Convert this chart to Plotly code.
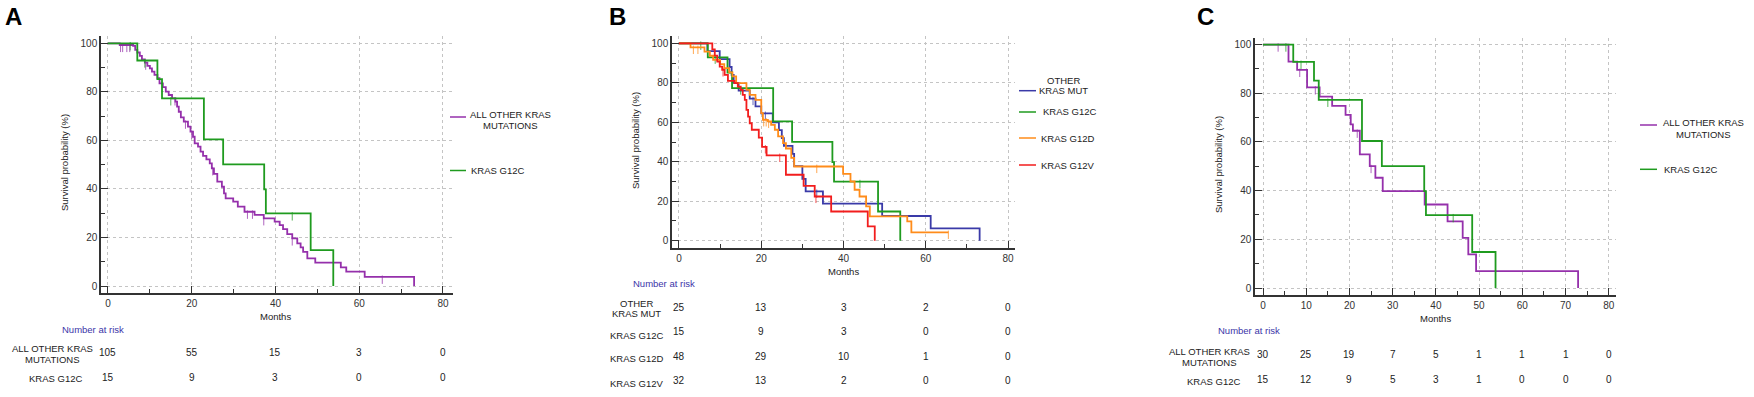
import plotly.graph_objects as go

W, H = 1754, 397
FONT = "Liberation Sans, Arial, sans-serif"

# ---------------- DATA ----------------
# Panel A / C : KRAS G12C (same cohort in all panels)
g12c_t = [0, 7.0, 11.8, 12.9, 22.9, 27.5, 37.3, 37.7, 48.4, 53.8]
g12c_s = [100, 92.9, 85.2, 77.3, 60.4, 50.1, 39.8, 29.9, 14.8, 0]
g12c_cens = [5.3, 8.8, 15.0, 44.0]

# Panel A : all other KRAS mutations
a_oth_t = [0, 2.8, 6.0, 6.5, 7.0, 7.6, 8.1, 8.8, 9.4, 10.0, 10.5, 11.1, 11.8, 12.3, 13.1,
           13.8, 14.5, 15.3, 16.1, 16.5, 16.9, 17.4, 18.1, 19.1, 19.7, 20.3, 20.7, 21.5,
           22.1, 22.7, 23.5, 24.3, 24.8, 25.3, 26.1, 27.2, 27.7, 28.1, 29.9, 31.0, 32.6,
           35.0, 37.2, 39.8, 41.0, 41.8, 42.8, 44.0, 45.2, 46.0, 46.6, 47.6, 49.5, 55.6,
           56.9, 61.3, 73.1]
a_oth_s = [100, 99.3, 98.9, 97.3, 96.2, 94.8, 93.4, 92.0, 90.7, 89.7, 88.3, 87.0, 85.6, 83.5, 81.9,
           80.1, 78.7, 77.3, 76.0, 73.9, 71.8, 69.5, 67.7, 65.7, 63.6, 61.5, 58.8, 57.4,
           55.4, 53.6, 52.2, 50.5, 48.5, 46.2, 43.0, 40.9, 38.2, 36.1, 34.8, 32.7, 30.6,
           29.3, 27.9, 26.5, 25.1, 23.4, 21.4, 19.6, 17.6, 15.9, 14.1, 11.4, 9.6, 7.7,
           5.9, 3.8, 0]
a_oth_cens = [3.0, 3.5, 4.5, 5.2, 9.0, 16.0, 18.5, 20.0, 25.0, 33.3, 34.5, 37.2, 44.0, 65.5]

# Panel B : other KRAS mut
b_oth_t = [0, 6.9, 9.9, 12.3, 12.8, 13.3, 14.5, 17.2, 18.6, 20.0, 22.8, 24.3, 25.0, 25.5,
           27.6, 28.0, 30.0, 30.8, 35.0, 49.4, 61.2, 73.1]
b_oth_s = [100, 96, 92, 88, 84, 80, 76, 72, 68, 64.5, 60, 56, 52, 48,
           44, 37.8, 31.3, 25.0, 18.8, 12.5, 6.2, 0]
b_oth_cens = [18.0, 21.0, 33.5]

# Panel B : KRAS G12D
g12d_t = [0, 2.8, 6.2, 7.5, 8.3, 10.0, 11.0, 12.2, 13.0, 13.9, 16.4, 17.2, 18.6, 20.0, 20.4,
          21.6, 22.4, 23.3, 24.1, 25.3, 26.0, 27.3, 28.0, 39.9, 41.7, 42.7, 43.9, 45.5,
          46.4, 55.5, 56.5, 65.5]
g12d_s = [100, 97.9, 95.8, 93.7, 91.6, 89.5, 87.4, 85.3, 83.2, 79.8, 76.4, 73.9, 71.3, 64.6, 61.2,
          60.4, 58.7, 56.2, 52.8, 49.4, 46.7, 42.0, 37.6, 33.9, 30.0, 25.8, 22.4, 17.4,
          12.3, 9.8, 4.2, 4.2]
g12d_cens = [3.5, 4.6, 20.6, 21.2, 21.8, 33.5, 65.5]

# Panel B : KRAS G12V
g12v_t = [0, 8.1, 8.7, 9.3, 9.9, 10.5, 11.1, 11.9, 13.5, 14.3, 15.0, 15.5, 16.0, 16.4, 16.8,
          17.2, 17.7, 19.4, 20.2, 21.3, 26.0, 30.3, 33.0, 37.0, 45.9, 47.6]
g12v_s = [100, 96.9, 93.8, 90.7, 88.2, 86.5, 84.0, 81.0, 79.8, 78.1, 76.4, 73.9, 71.3, 66.3, 62.9,
          59.5, 56.2, 52.2, 47.5, 43.2, 33.4, 27.8, 22.4, 14.8, 7.3, 0]
g12v_cens = [10.7, 21.0, 24.5, 33.3]

# Panel C : all other KRAS mutations (subset)
c_oth_t = [0, 5.9, 7.9, 10.2, 13.1, 16.0, 19.1, 20.3, 20.8, 22.4, 24.7, 26.0, 27.7, 37.4,
           42.7, 46.2, 47.5, 49.3, 72.9]
c_oth_s = [100, 93.0, 89.6, 82.4, 78.6, 74.8, 71.1, 67.2, 64.6, 54.9, 50.1, 45.3, 39.8, 34.3,
           27.4, 20.6, 13.8, 6.9, 0]
c_oth_cens = [3.5, 8.5, 12.1, 21.8, 25.0]

# Risk tables
risk_times_ab = [0, 20, 40, 60, 80]
risk_times_c = [0, 10, 20, 30, 40, 50, 60, 70, 80]
risk_a_oth = [105, 55, 15, 3, 0]
risk_a_g12c = [15, 9, 3, 0, 0]
risk_b_oth = [25, 13, 3, 2, 0]
risk_b_g12c = [15, 9, 3, 0, 0]
risk_b_g12d = [48, 29, 10, 1, 0]
risk_b_g12v = [32, 13, 2, 0, 0]
risk_c_oth = [30, 25, 19, 7, 5, 1, 1, 1, 0]
risk_c_g12c = [15, 12, 9, 5, 3, 1, 0, 0, 0]

PURPLE = "#9530ab"
GREEN = "#1f9b1f"
BLUE = "#3a3aa8"
ORANGE = "#ff8c1a"
RED = "#f21d1d"
RISKBLUE = "#3b35a8"
TXT = "#222222"


def px(x):
    return x / W


def py(y):
    return 1 - y / H


def surv_at(t, times, surv):
    val = surv[0]
    for ti, si in zip(times, surv):
        if ti <= t:
            val = si
    return val


fig = go.Figure()


def add_curve(times, surv, cens, color, ax):
    xa, ya = ("x", "y") if ax == 1 else (f"x{ax}", f"y{ax}")
    fig.add_trace(go.Scatter(x=times, y=surv, mode="lines",
                             line=dict(shape="hv", color=color, width=1.8),
                             xaxis=xa, yaxis=ya, showlegend=False, hoverinfo="skip"))
    fig.add_trace(go.Scatter(x=cens, y=[surv_at(t, times, surv) - 1.2 for t in cens], mode="markers",
                             marker=dict(symbol="line-ns", size=6, color=color, opacity=0.75,
                                         line=dict(width=1, color=color)),
                             xaxis=xa, yaxis=ya, showlegend=False, hoverinfo="skip"))


# Panel A
add_curve(a_oth_t, a_oth_s, a_oth_cens, PURPLE, 1)
add_curve(g12c_t, g12c_s, g12c_cens, GREEN, 1)
# Panel B
add_curve(b_oth_t, b_oth_s, b_oth_cens, BLUE, 2)
add_curve(g12c_t, g12c_s, g12c_cens, GREEN, 2)
add_curve(g12d_t, g12d_s, g12d_cens, ORANGE, 2)
add_curve(g12v_t, g12v_s, g12v_cens, RED, 2)
# Panel C
add_curve(c_oth_t, c_oth_s, c_oth_cens, PURPLE, 3)
add_curve(g12c_t, g12c_s, g12c_cens, GREEN, 3)


def xaxis(dom, rng, dtick, mdtick, anchor):
    return dict(domain=[px(dom[0]), px(dom[1])], range=rng, anchor=anchor,
                showline=True, linecolor="#333333", linewidth=1.5,
                ticks="inside", ticklen=7, tickwidth=1, tickcolor="#333333",
                tick0=0, dtick=dtick, showgrid=True, gridcolor="#c4c4c4", griddash="dot",
                gridwidth=1, zeroline=False, fixedrange=True,
                tickfont=dict(size=10, color="#333333", family=FONT),
                minor=dict(ticks="inside", ticklen=4, tick0=0, dtick=mdtick,
                           tickcolor="#333333", showgrid=False))


def yaxis(dom, rng, anchor):
    return dict(domain=[py(dom[1]), py(dom[0])], range=rng, anchor=anchor,
                showline=True, linecolor="#333333", linewidth=1.5,
                ticks="inside", ticklen=7, tickwidth=1, tickcolor="#333333",
                tick0=0, dtick=20, showgrid=True, gridcolor="#c4c4c4", griddash="dot",
                gridwidth=1, zeroline=False, fixedrange=True,
                tickfont=dict(size=10, color="#333333", family=FONT),
                minor=dict(ticks="inside", ticklen=4, tick0=0, dtick=10,
                           tickcolor="#333333", showgrid=False))


fig.update_layout(
    width=W, height=H, autosize=False,
    margin=dict(l=0, r=0, t=0, b=0),
    paper_bgcolor="white", plot_bgcolor="white",
    showlegend=False,
    xaxis=xaxis((101, 453), [-1.67, 82.39], 20, 10, "y"),
    yaxis=yaxis((36, 293), [-2.88, 103.0], "x"),
    xaxis2=xaxis((672, 1015), [-1.70, 81.7], 20, 10, "y2"),
    yaxis2=yaxis((36, 248), [-3.70, 103.7], "x2"),
    xaxis3=xaxis((1255, 1616), [-1.85, 81.67], 10, 5, "y3"),
    yaxis3=yaxis((38, 295), [-2.87, 102.7], "x3"),
)

annotations = []
shapes = []


def ann(text, x, y, xref="paper", xanchor="center", size=9.5, color=TXT, angle=0):
    annotations.append(dict(text=text, x=px(x) if xref == "paper" else x, y=py(y),
                            xref=xref, yref="paper", xanchor=xanchor, yanchor="middle",
                            showarrow=False, textangle=angle,
                            font=dict(size=size, color=color, family=FONT)))


def leg_line(x0, x1, y, color):
    shapes.append(dict(type="line", xref="paper", yref="paper",
                       x0=px(x0), x1=px(x1), y0=py(y), y1=py(y),
                       line=dict(color=color, width=1.5)))


# Panel letters
ann("<b>A</b>", 3, 16, xanchor="left", size=24, color="black")
ann("<b>B</b>", 607, 16, xanchor="left", size=24, color="black")
ann("<b>C</b>", 1195, 16, xanchor="left", size=24, color="black")

# Axis titles
ann("Survival probability (%)", 64, 163, angle=-90)
ann("Survival probability (%)", 635, 141, angle=-90)
ann("Survival probability (%)", 1218, 165, angle=-90)
ann("Months", 40, 316, xref="x")
ann("Months", 40, 271, xref="x2")
ann("Months", 40, 318, xref="x3")

# Legends
leg_line(450, 466, 117, PURPLE)
ann("ALL OTHER KRAS", 510, 115)
ann("MUTATIONS", 510, 126)
leg_line(450, 466, 170.5, GREEN)
ann("KRAS G12C", 469, 170.5, xanchor="left")

leg_line(1019, 1036, 90.7, BLUE)
ann("OTHER", 1063, 80.5)
ann("KRAS MUT", 1063, 91)
leg_line(1019, 1036, 112, GREEN)
ann("KRAS G12C", 1041, 112, xanchor="left")
leg_line(1019, 1036, 138, ORANGE)
ann("KRAS G12D", 1039, 138, xanchor="left")
leg_line(1019, 1036, 165, RED)
ann("KRAS G12V", 1039, 165, xanchor="left")

leg_line(1640, 1657, 125, PURPLE)
ann("ALL OTHER KRAS", 1703, 122.7)
ann("MUTATIONS", 1703, 134)
leg_line(1640, 1657, 169.3, GREEN)
ann("KRAS G12C", 1662, 169.3, xanchor="left")

# Risk tables
ann("Number at risk", 60, 329, xanchor="left", color=RISKBLUE)
ann("ALL OTHER KRAS", 52, 348)
ann("MUTATIONS", 52, 359)
ann("KRAS G12C", 55.5, 378)
for t, v in zip(risk_times_ab, risk_a_oth):
    ann(str(v), t, 352, xref="x", size=10)
for t, v in zip(risk_times_ab, risk_a_g12c):
    ann(str(v), t, 377, xref="x", size=10)

ann("Number at risk", 631, 283, xanchor="left", color=RISKBLUE)
ann("OTHER", 636.5, 303)
ann("KRAS MUT", 636.5, 313)
ann("KRAS G12C", 636.5, 335)
ann("KRAS G12D", 636.5, 358.7)
ann("KRAS G12V", 636.5, 383)
for row, yy in ((risk_b_oth, 307), (risk_b_g12c, 331.7), (risk_b_g12d, 356), (risk_b_g12v, 380)):
    for t, v in zip(risk_times_ab, row):
        ann(str(v), t, yy, xref="x2", size=10)

ann("Number at risk", 1216, 330, xanchor="left", color=RISKBLUE)
ann("ALL OTHER KRAS", 1209.5, 351.7)
ann("MUTATIONS", 1209.5, 362.7)
ann("KRAS G12C", 1213, 381.7)
for t, v in zip(risk_times_c, risk_c_oth):
    ann(str(v), t, 354, xref="x3", size=10)
for t, v in zip(risk_times_c, risk_c_g12c):
    ann(str(v), t, 379, xref="x3", size=10)

fig.update_layout(annotations=annotations, shapes=shapes)

fig.write_html("out.html",
               config={"displayModeBar": False},
               post_script="document.body.style.margin='0px';document.body.style.overflow='hidden';")
